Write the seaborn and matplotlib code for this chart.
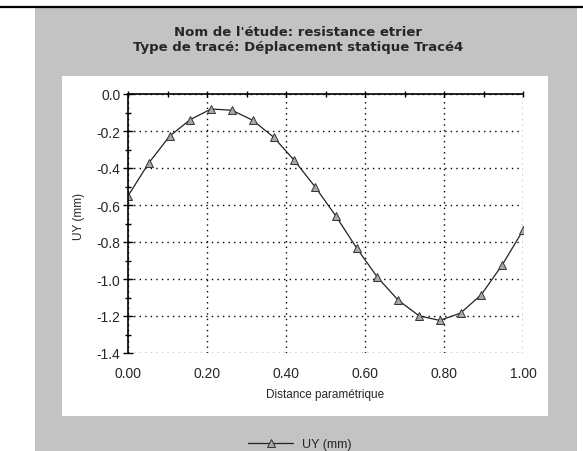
import numpy as np
import pandas as pd
import matplotlib
matplotlib.use("Agg")
import matplotlib.pyplot as plt
import matplotlib.ticker as mtick
from matplotlib.patches import Rectangle
from matplotlib.lines import Line2D
import seaborn as sns

# Data (20 points, evenly spaced on 0..1)
distance = np.linspace(0.0, 1.0, 20)
uy_mm = [-0.551, -0.373, -0.228, -0.138, -0.081, -0.088, -0.142, -0.233,
         -0.359, -0.502, -0.660, -0.833, -0.991, -1.115, -1.199, -1.224,
         -1.184, -1.084, -0.924, -0.737]

x_ticks = [0.0, 0.2, 0.4, 0.6, 0.8, 1.0]
y_ticks = [0.0, -0.2, -0.4, -0.6, -0.8, -1.0, -1.2, -1.4]

title_1 = "Nom de l'étude: resistance etrier"
title_2 = "Type de tracé: Déplacement statique Tracé4"
x_label = "Distance paramétrique"
y_label = "UY (mm)"

df = pd.DataFrame({"distance": distance, "uy": uy_mm})

sns.set_style("white")
plt.rcParams["font.family"] = ["Liberation Sans", "DejaVu Sans"]
plt.rcParams["axes.unicode_minus"] = False

W, H = 583, 452
fig = plt.figure(figsize=(W / 100, H / 100), dpi=100)
fig.patch.set_facecolor("white")


def fx(px):
    return px / W


def fy(py):
    return 1 - py / H


# scanned window: gray frame with white panel
fig.add_artist(Rectangle((fx(35), 0), fx(577) - fx(35), fy(9), transform=fig.transFigure,
                         facecolor="#c3c3c3", edgecolor="none", zorder=0))
fig.add_artist(Rectangle((fx(62), fy(417)), fx(548) - fx(62), fy(77) - fy(417),
                         transform=fig.transFigure, facecolor="white", edgecolor="none", zorder=0))
fig.add_artist(Line2D([0, 1], [fy(7.5), fy(7.5)], transform=fig.transFigure,
                      color="black", linewidth=1.6, zorder=1))

fig.text(fx(298), fy(33), title_1, ha="center", va="center", fontsize=9.5,
         fontweight="bold", family="DejaVu Sans")
fig.text(fx(298), fy(47), title_2, ha="center", va="center", fontsize=9.5,
         fontweight="bold", family="DejaVu Sans")

ax = fig.add_axes([fx(128), fy(354), fx(523) - fx(128), fy(95) - fy(354)])
ax.set_facecolor("white")

sns.lineplot(data=df, x="distance", y="uy", ax=ax, color="#222222", linewidth=0.9,
             marker="^", markersize=5.5, markerfacecolor="#a8a8a8",
             markeredgecolor="#333333", markeredgewidth=0.7, label=y_label,
             legend=False)

ax.set_xlim(0, 1)
ax.set_ylim(-1.4, 0)
ax.set_xticks(x_ticks)
ax.set_yticks(y_ticks)
ax.xaxis.set_major_formatter(mtick.FormatStrFormatter("%.2f"))
ax.yaxis.set_major_formatter(mtick.FormatStrFormatter("%.1f"))
ax.xaxis.set_minor_locator(mtick.MultipleLocator(0.1))
ax.yaxis.set_minor_locator(mtick.MultipleLocator(0.1))

ax.grid(True, which="major", color="black", linestyle=(0, (1, 3)), linewidth=1.0)
for side in ["bottom", "right"]:
    ax.spines[side].set_visible(False)
for side in ["top", "left"]:
    ax.spines[side].set_color("black")
    ax.spines[side].set_linewidth(1.2)

ax.tick_params(axis="x", which="both", bottom=False, top=True, labelbottom=True,
               labeltop=False, direction="inout", length=5, width=1, color="black",
               labelsize=10, pad=7)
ax.tick_params(axis="x", which="minor", length=5)
ax.tick_params(axis="y", which="major", left=True, direction="inout", length=7,
               width=1, color="black", labelsize=10, pad=2)
ax.tick_params(axis="y", which="minor", left=True, direction="inout", length=5,
               width=1, color="black")

ax.set_xlabel(x_label, fontsize=8.5)
ax.set_ylabel(y_label, fontsize=8.5)
ax.xaxis.set_label_coords(0.5, -0.135)
ax.yaxis.set_label_coords(-0.11, 0.53)

handles, labels = ax.get_legend_handles_labels()
leg = fig.legend(handles, labels, loc="center", bbox_to_anchor=(fx(300), fy(445)),
                 frameon=False, fontsize=9, handlelength=3.6, handletextpad=0.7,
                 borderaxespad=0, borderpad=0)

fig.savefig("out.png", dpi=100)
